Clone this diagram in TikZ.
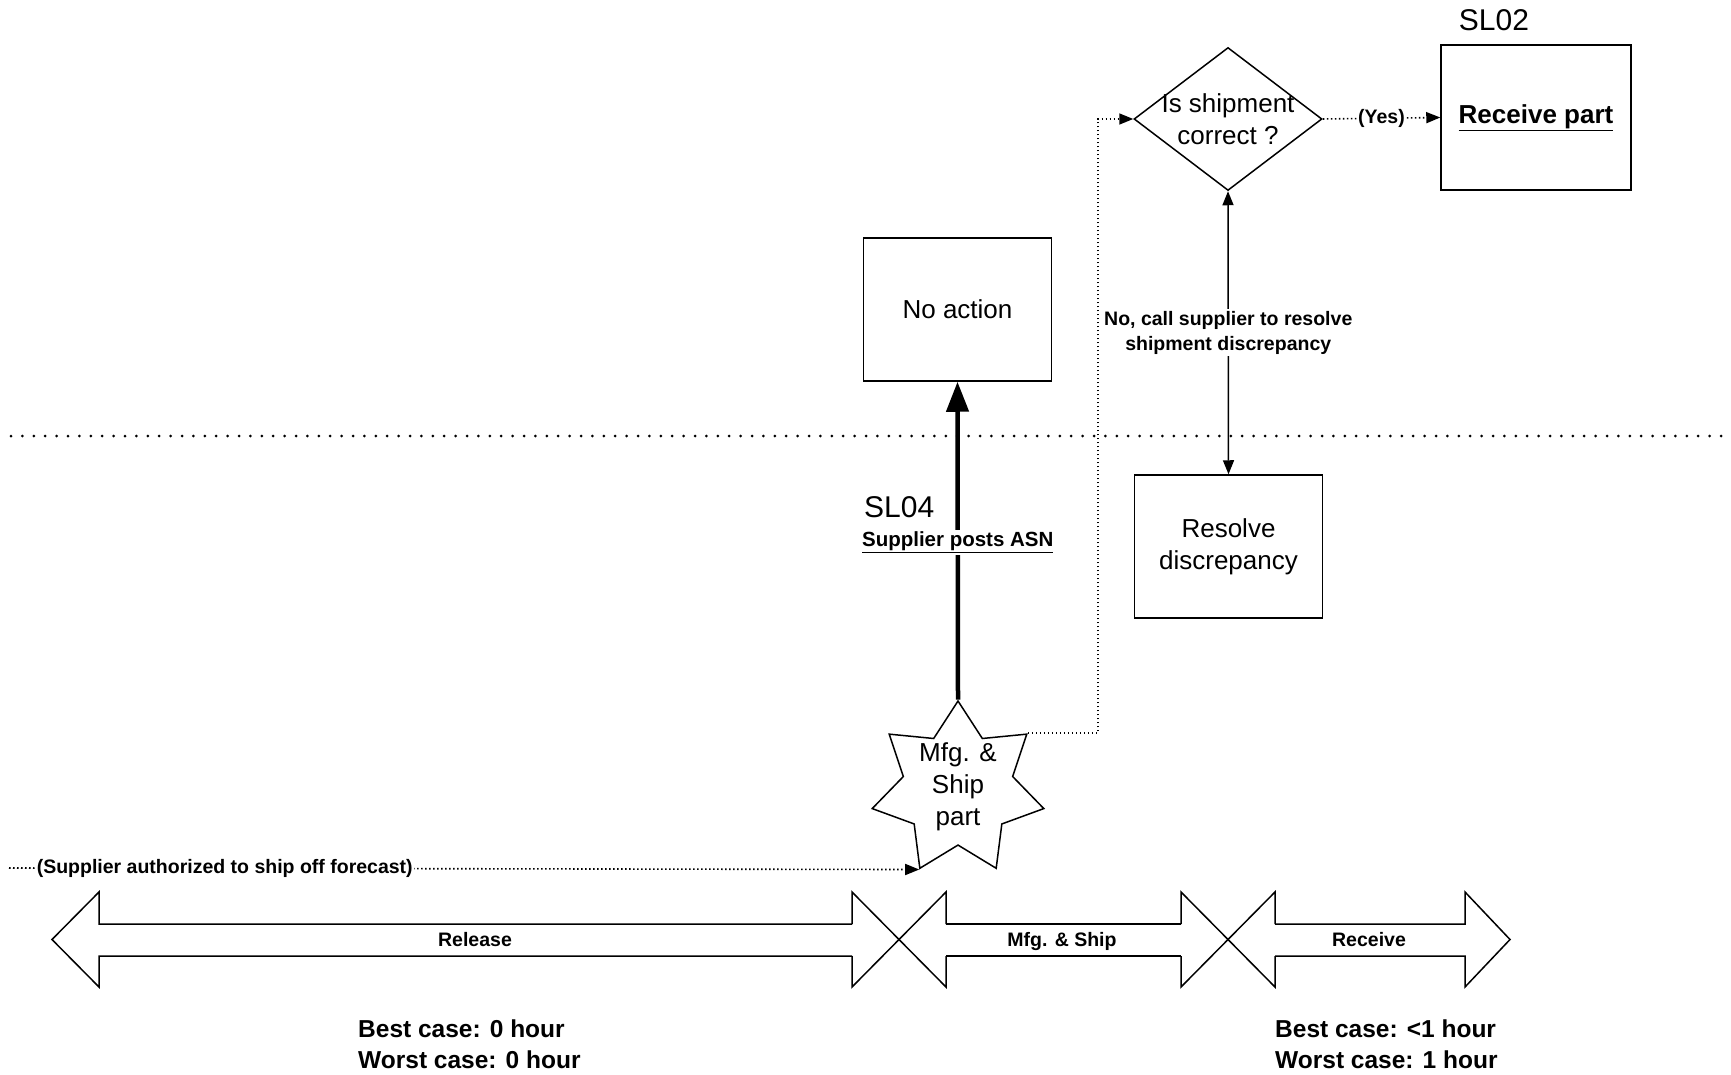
\documentclass[tikz,border=0pt]{standalone}
\usepackage{fontspec}
\setmainfont{Liberation Sans}
\usetikzlibrary{arrows,arrows.meta,shapes.geometric,positioning}

\begin{document}
\begin{tikzpicture}[x=1pt,y=-1pt,>={Triangle[width=11pt,length=14pt]},
  box/.style={draw,line width=1.5pt,minimum width=188pt,minimum height=143pt,align=center,font=\fontsize{26}{32}\selectfont},
  small/.style={font=\fontsize{19.5}{25}\selectfont\bfseries},
  big/.style={font=\fontsize{30}{36}\selectfont},
  dots/.style={line width=1.6pt,dash pattern=on 1.6pt off 2.4pt},
  band/.style={line width=1.5pt}]

\useasboundingbox (0,0) rectangle (1731,1075);

\node[box] (noact) at (957.5,309.5) {No action};
\node[box] (resolve) at (1228.5,546.5) {Resolve\\discrepancy};
\node[box,minimum width=190pt,minimum height=145pt] (recv) at (1536,117.5) {\textbf{\underline{Receive part}}};
\node[diamond,draw,line width=1.5pt,minimum width=188pt,minimum height=143pt,inner sep=0pt,
  label={[align=center,font=\fontsize{26}{32}\selectfont]center:Is shipment\\correct ?}] (dec) at (1228,119) {};
\node[star,star points=7,star point ratio=1.57,draw,line width=1.5pt,minimum size=176pt,inner sep=0pt,
  label={[align=center,font=\fontsize{26}{32}\selectfont,yshift=2pt]center:Mfg. \&\\Ship\\part}] (mfg) at (958,789) {};
\node[big] (sl02) at (1494,20) {SL02};

\coordinate (turn) at (1098,119);
\coordinate (src) at (9,868);
\coordinate (sepL) at (11,436);
\coordinate (sepR) at (1728,436);

\draw[line width=3pt,line cap=round,dash pattern=on 0pt off 11.4pt] (sepL) -- (sepR);

\draw[line width=4.5pt,-{Triangle[width=22pt,length=30pt]}] (mfg.outer point 1) -- node[pos=0.495,small,font=\fontsize{20.5}{25}\selectfont\bfseries,fill=white,inner sep=2pt] (asn) {\underline{Supplier posts ASN}} (noact.south);
\node[big,anchor=base west,inner sep=0pt] (sl04) at (864,517) {SL04};

\draw[dots,->] (mfg.outer point 7) -| (turn) -- (dec.west);
\draw[dots,->] (dec.east) -- node[small,fill=white,inner sep=1pt] (yes) {(Yes)} (recv.west);
\draw[line width=1.5pt,<->] (dec.south) -- node[small,fill=white,align=center,inner sep=2pt] (nocall) {No, call supplier to resolve\\shipment discrepancy} (resolve.north);
\draw[dots,->] (src) -- node[pos=0.237,small,fill=white,inner sep=1pt] (auth) {(Supplier authorized to ship off forecast)} (mfg.outer point 4);

\draw[band] (852,924) -- (99,924) -- (99,892) -- (52,939.5) -- (99,987) -- (99,956) -- (852,956);
\draw[band] (946,924) -- (1181,924) (946,956) -- (1181,956);
\draw[band] (1275,924) -- (1465,924) -- (1465,892) -- (1510,939.5) -- (1465,987) -- (1465,956) -- (1275,956);
\foreach \a/\b in {852/946,1181/1275}{
  \draw[band] (\a,924) -- (\a,892) -- (\b,987) -- (\b,956);
  \draw[band] (\a,956) -- (\a,987) -- (\b,892) -- (\b,924);
}
\node[small,anchor=base] (rel) at (475,946.5) {Release};
\node[small,anchor=base] (mship) at (1062,946.5) {Mfg. \& Ship};
\node[small,anchor=base] (rcv) at (1369,946.5) {Receive};

\node[font=\fontsize{24.5}{31}\selectfont\bfseries,align=left,anchor=west,inner sep=0pt] (best1) at (358,1044) {Best case: 0 hour\\Worst case: 0 hour};
\node[font=\fontsize{24.5}{31}\selectfont\bfseries,align=left,anchor=west,inner sep=0pt] (best2) at (1275,1044) {Best case: <1 hour\\Worst case: 1 hour};
\end{tikzpicture}
\end{document}
